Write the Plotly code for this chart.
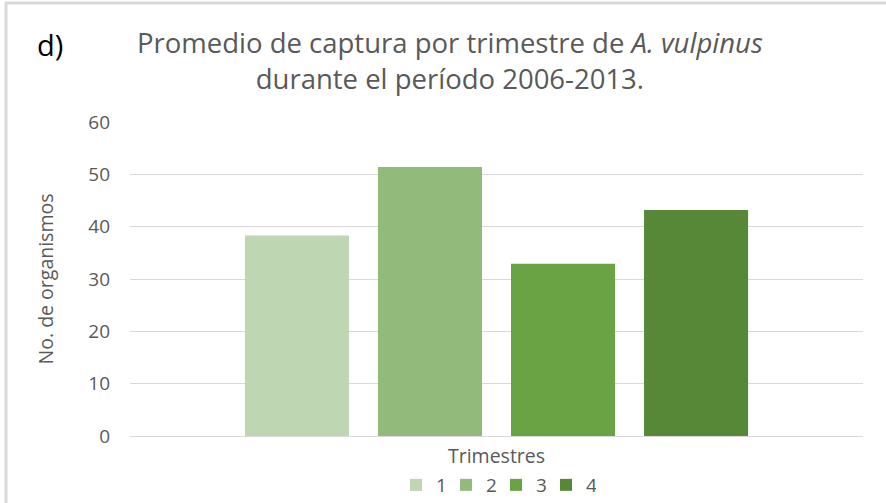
import plotly.graph_objects as go

# Data
series_names = ["1", "2", "3", "4"]
values = [38.3, 51.4, 32.9, 43.2]
colors = ["#BED6B2", "#92BB7B", "#6AA343", "#568837"]
category = ["Trimestres"]
y_ticks = [0, 10, 20, 30, 40, 50, 60]

W, H = 886, 503
L, R, T, B = 130, 23, 122, 67
pw, ph = W - L - R, H - T - B

def px_x(px):
    return (px - L) / pw

def px_y(py):
    return (H - B - py) / ph

fig = go.Figure()
for name, v, c in zip(series_names, values, colors):
    fig.add_trace(go.Bar(x=category, y=[v], name=name, marker=dict(color=c, line=dict(width=0))))

font_family = "Open Sans, Noto Sans, sans-serif"
gray = "#595959"

fig.update_layout(
    width=W, height=H,
    margin=dict(l=L, r=R, t=T, b=B, autoexpand=False),
    paper_bgcolor="white", plot_bgcolor="white",
    barmode="group", bargap=0.274, bargroupgap=0.218,
    font=dict(family=font_family, color=gray, size=19),
    showlegend=True,
    legend=dict(orientation="h", x=px_x(496), xanchor="center", y=px_y(485), yanchor="middle",
                font=dict(size=19, color=gray), itemwidth=30, entrywidth=5, traceorder="normal",
                bgcolor="rgba(0,0,0,0)"),
    xaxis=dict(range=[-0.5, 0.5], showticklabels=False, showgrid=False, zeroline=False,
               showline=True, linecolor="#D9D9D9", linewidth=1,
               title=dict(text="Trimestres", font=dict(size=19.5, color=gray), standoff=13)),
    yaxis=dict(range=[0, 60], tickvals=y_ticks, showgrid=True, gridcolor="#D9D9D9", gridwidth=1,
               zeroline=False, showline=False, ticks="", ticklabelstandoff=19,
               tickfont=dict(size=19, color=gray),
               title=dict(text="No. de organismos", font=dict(size=19.5, color=gray), standoff=29)),
    annotations=[
        dict(text="Promedio de captura por trimestre de <i>A. vulpinus</i><br>durante el período 2006-2013.",
             x=px_x(450), y=px_y(61), xref="paper", yref="paper", xanchor="center", yanchor="middle",
             showarrow=False, font=dict(size=27.5, color=gray, family=font_family)),
        dict(text="d)", x=px_x(50), y=px_y(44), xref="paper", yref="paper", xanchor="center", yanchor="middle",
             showarrow=False, font=dict(size=29, color="black", family=font_family)),
    ],
    shapes=[
        dict(type="line", xref="paper", yref="paper", x0=px_x(5), x1=px_x(886), y0=px_y(3), y1=px_y(3),
             line=dict(color="#D9D9D9", width=3)),
        dict(type="line", xref="paper", yref="paper", x0=px_x(6), x1=px_x(6), y0=px_y(2), y1=px_y(503),
             line=dict(color="#D9D9D9", width=3)),
    ],
)

fig.write_html("out.html", config={"displayModeBar": False},
               post_script="document.body.style.margin='0';")
